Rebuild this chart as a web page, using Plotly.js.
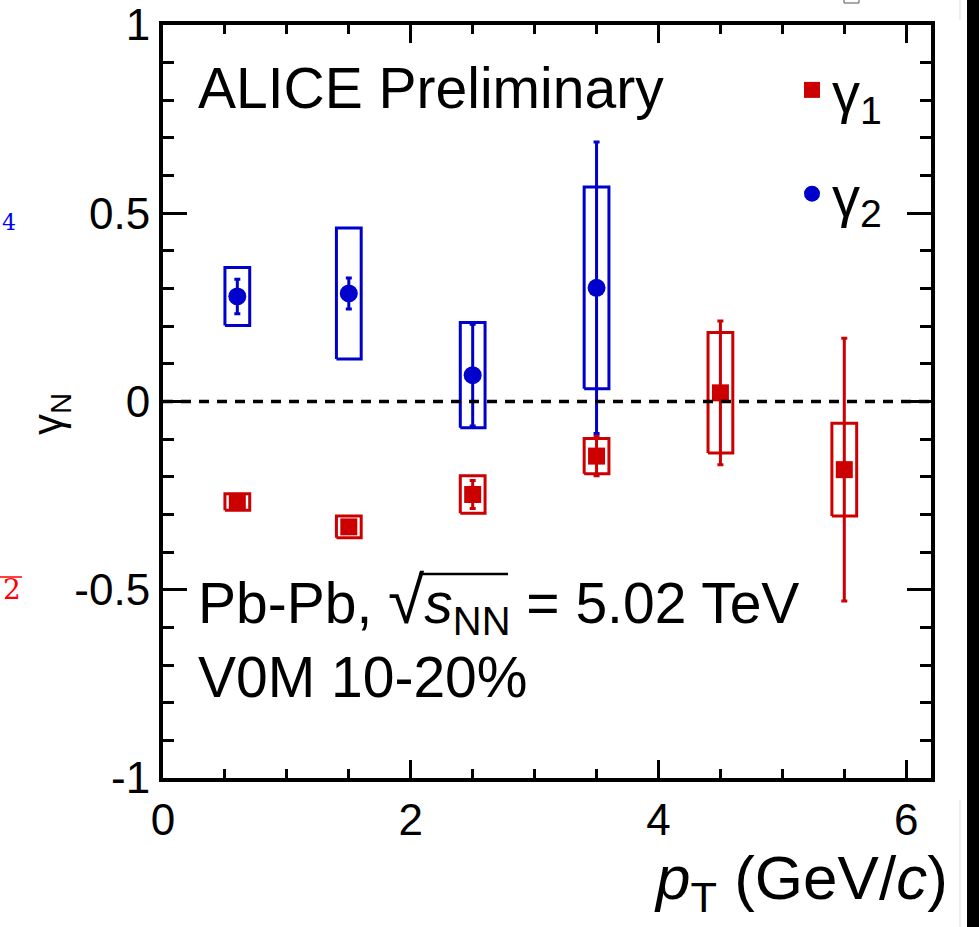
<!DOCTYPE html>
<html><head><meta charset="utf-8">
<script src="https://cdn.plot.ly/plotly-3.0.1.min.js"></script>
<style>html,body{margin:0;padding:0;background:#fff;overflow:hidden}</style>
</head><body><div id="chart" style="width:979px;height:927px"></div>
<script>
// ---- data ----
const ptGamma1 = [0.6, 1.5, 2.5, 3.5, 4.5, 5.5];
const gamma1 = [-0.267, -0.333, -0.247, -0.145, 0.023, -0.181];
const gamma1Stat = [0.008, 0.010, 0.037, 0.052, 0.191, 0.349];
const gamma1Sys = [0.022, 0.029, 0.050, 0.047, 0.160, 0.123];

const ptGamma2 = [0.6, 1.5, 2.5, 3.5];
const gamma2 = [0.279, 0.287, 0.070, 0.302];
const gamma2Stat = [0.046, 0.041, 0.135, 0.387];
const gamma2Sys = [0.077, 0.174, 0.140, 0.268];

const xTickVals = [0, 2, 4, 6];
const xTickText = ['0', '2', '4', '6'];
const yTickVals = [-1, -0.5, 0, 0.5, 1];
const yTickText = ['-1', '-0.5', '0', '0.5', '1'];

// ---- styles ----
const RED = '#cc0000';
const BLUE = '#0000cc';
const FONT = 'Liberation Sans, Arial, Helvetica, sans-serif';
const BOX_HW = 0.1;

function sysBoxes(xs, ys, sys) {
  const bx = [], by = [];
  xs.forEach((x, i) => {
    const lo = ys[i] - sys[i], hi = ys[i] + sys[i];
    bx.push(x - BOX_HW, x + BOX_HW, x + BOX_HW, x - BOX_HW, x - BOX_HW, null);
    by.push(lo, lo, hi, hi, lo, null);
  });
  return {x: bx, y: by};
}

const b2 = sysBoxes(ptGamma2, gamma2, gamma2Sys);
const b1 = sysBoxes(ptGamma1, gamma1, gamma1Sys);

const traces = [
  {x: b2.x, y: b2.y, mode: 'lines', line: {color: BLUE, width: 3}, showlegend: false, hoverinfo: 'skip', connectgaps: false},
  {x: b1.x, y: b1.y, mode: 'lines', line: {color: RED, width: 3}, showlegend: false, hoverinfo: 'skip', connectgaps: false},
  {x: ptGamma2, y: gamma2, mode: 'markers', name: 'γ<sub>2</sub>', legendgroup: 'g2', legendrank: 2,
   marker: {color: BLUE, symbol: 'circle', size: 18},
   error_y: {type: 'data', array: gamma2Stat, visible: true, color: BLUE, thickness: 3, width: 3}},
  {x: ptGamma1, y: gamma1, mode: 'markers', name: 'γ<sub>1</sub>', legendgroup: 'g1', legendrank: 1,
   marker: {color: RED, symbol: 'square', size: 17},
   error_y: {type: 'data', array: gamma1Stat, visible: true, color: RED, thickness: 3, width: 3}}
];

function py(p) { return (778 - p) / 753; }
function px(p) { return (p - 163) / 768; }

const layout = {
  width: 979, height: 927,
  margin: {l: 163, r: 48, t: 25, b: 149},
  paper_bgcolor: '#fff', plot_bgcolor: '#fff',
  font: {family: FONT, color: '#000'},
  showlegend: true,
  legend: {x: px(792), y: py(47), xanchor: 'left', yanchor: 'top', bgcolor: 'rgba(0,0,0,0)',
           font: {size: 56, family: FONT}, traceorder: 'grouped', tracegroupgap: 28, itemwidth: 30},
  xaxis: {range: [0, 6.2], showgrid: false, zeroline: false, showline: true, linecolor: '#000', linewidth: 4,
          mirror: 'ticks', ticks: 'inside', ticklen: 18, tickwidth: 3, tickcolor: '#000',
          tickmode: 'array', tickvals: xTickVals, ticktext: xTickText,
          tickfont: {size: 44, family: FONT},
          minor: {tickmode: 'linear', tick0: 0, dtick: 0.5, ticks: 'inside', ticklen: 9, tickwidth: 3, tickcolor: '#000', showgrid: false}},
  yaxis: {range: [-1, 1], showgrid: false, zeroline: false, showline: true, linecolor: '#000', linewidth: 4,
          mirror: 'ticks', ticks: 'inside', ticklen: 24, tickwidth: 3, tickcolor: '#000',
          tickmode: 'array', tickvals: yTickVals, ticktext: yTickText,
          tickfont: {size: 44, family: FONT},
          minor: {tickmode: 'linear', tick0: 0, dtick: 0.1, ticks: 'inside', ticklen: 11, tickwidth: 3, tickcolor: '#000', showgrid: false}},
  shapes: [
    {type: 'line', xref: 'paper', yref: 'y', x0: 0, x1: 1, y0: 0, y1: 0, layer: 'above',
     line: {color: '#000', width: 3.5, dash: '10px,8px'}},
    {type: 'rect', xref: 'paper', yref: 'paper', x0: px(967), x1: px(985), y0: py(935), y1: py(-10),
     line: {width: 0}, fillcolor: '#000', layer: 'above'},
    {type: 'line', xref: 'paper', yref: 'paper', x0: px(960), x1: px(960), y0: py(927), y1: py(800),
     line: {width: 1, color: '#ddd'}},
    {type: 'line', xref: 'paper', yref: 'paper', x0: px(960), x1: px(960), y0: py(20), y1: py(0),
     line: {width: 1, color: '#ddd'}},
    {type: 'rect', xref: 'paper', yref: 'paper', x0: px(844), x1: px(859), y0: py(3), y1: py(-5),
     line: {width: 1, color: '#555'}, fillcolor: 'rgba(0,0,0,0)'},
    // square-root overline of the collision-energy label
    {type: 'line', xref: 'paper', yref: 'paper', x0: px(419), x1: px(508), y0: py(574), y1: py(574),
     line: {width: 2.5, color: '#000'}, layer: 'above'},
    // overline of the cropped red fragment at the left edge
    {type: 'line', xref: 'paper', yref: 'paper', x0: px(0), x1: px(22), y0: py(577), y1: py(577),
     line: {width: 1.5, color: 'red'}}
  ],
  annotations: [
    {text: 'ALICE Preliminary', xref: 'paper', yref: 'paper', x: px(196), y: py(88), xanchor: 'left', yanchor: 'middle',
     showarrow: false, font: {size: 57, family: FONT}},
    {text: 'Pb-Pb, <span style="font-size:66px">√</span><i>s</i><sub>NN</sub> = 5.02 TeV', xref: 'paper', yref: 'paper',
     x: px(196), y: py(603), xanchor: 'left', yanchor: 'middle', showarrow: false, font: {size: 57, family: FONT}},
    {text: 'V0M 10-20%', xref: 'paper', yref: 'paper', x: px(196), y: py(677), xanchor: 'left', yanchor: 'middle',
     showarrow: false, font: {size: 57, family: FONT}},
    {text: '<i>p</i><sub>T</sub> (GeV/<i>c</i>)', xref: 'paper', yref: 'paper', x: px(950), y: py(882),
     xanchor: 'right', yanchor: 'middle', showarrow: false, font: {size: 62, family: FONT}},
    {text: 'γ<sub>N</sub>', xref: 'paper', yref: 'paper', x: px(50), y: py(414), xanchor: 'center', yanchor: 'middle',
     textangle: -90, showarrow: false, font: {size: 42, family: FONT}},
    {text: '2', xref: 'paper', yref: 'paper', x: px(1), y: py(589),
     xanchor: 'left', yanchor: 'middle', showarrow: false, font: {size: 28, family: 'DejaVu Serif, serif', color: 'red'}},
    {text: '4', xref: 'paper', yref: 'paper', x: px(0), y: py(222),
     xanchor: 'left', yanchor: 'middle', showarrow: false, font: {size: 22, family: 'DejaVu Serif, serif', color: 'blue'}}
  ]
};

Plotly.newPlot('chart', traces, layout, {displayModeBar: false, staticPlot: true});
</script>
</body></html>
